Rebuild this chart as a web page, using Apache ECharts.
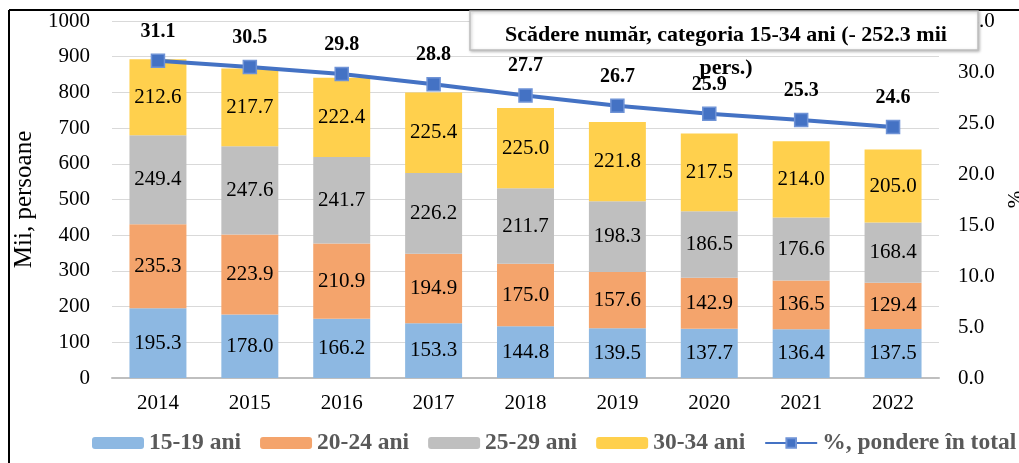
<!DOCTYPE html>
<html>
<head>
<meta charset="utf-8">
<script src="https://cdn.jsdelivr.net/npm/echarts@6/dist/echarts.min.js"></script>
<style>
html, body { margin: 0; padding: 0; background: #fff; }
#main { width: 1019px; height: 463px; }
</style>
</head>
<body>
<div id="main"></div>
<script>
var years = ['2014', '2015', '2016', '2017', '2018', '2019', '2020', '2021', '2022'];
var age15_19 = [195.3, 178.0, 166.2, 153.3, 144.8, 139.5, 137.7, 136.4, 137.5];
var age20_24 = [235.3, 223.9, 210.9, 194.9, 175.0, 157.6, 142.9, 136.5, 129.4];
var age25_29 = [249.4, 247.6, 241.7, 226.2, 211.7, 198.3, 186.5, 176.6, 168.4];
var age30_34 = [212.6, 217.7, 222.4, 225.4, 225.0, 221.8, 217.5, 214.0, 205.0];
var share = [31.1, 30.5, 29.8, 28.8, 27.7, 26.7, 25.9, 25.3, 24.6];
var boxText = 'Scădere număr, categoria 15-34 ani (- 252.3 mii\npers.)';

var font = 'Liberation Serif';
var chart = echarts.init(document.getElementById('main'));

function barSeries(name, data, color) {
	return {
		name: name,
		type: 'bar',
		stack: 'total',
		barWidth: '62%',
		data: data,
		itemStyle: { color: color },
		label: {
			show: true,
			position: 'inside',
			formatter: function (p) { return p.value.toFixed(1); },
			fontFamily: font,
			fontSize: 21,
			color: '#000'
		}
	};
}

var option = {
	backgroundColor: '#fff',
	animation: false,
	textStyle: { fontFamily: font },
	grid: { left: 112, right: 80, top: 21, bottom: 85, outerBoundsMode: 'none', containLabel: false },
	legend: {
		bottom: 8,
		left: 92,
		padding: 0,
		itemWidth: 52,
		itemHeight: 12,
		itemGap: 19,
		textStyle: { fontFamily: font, fontSize: 23.5, fontWeight: 'bold', color: '#595959' },
		data: ['15-19 ani', '20-24 ani', '25-29 ani', '30-34 ani', '%, pondere în total']
	},
	xAxis: {
		type: 'category',
		data: years,
		axisLine: { lineStyle: { color: '#bfbfbf', width: 2 } },
		axisTick: { show: false },
		axisLabel: { fontFamily: font, fontSize: 21, color: '#000', margin: 15 }
	},
	yAxis: [{
		type: 'value',
		min: 0, max: 1000, interval: 100,
		name: 'Mii, persoane',
		nameLocation: 'middle',
		nameGap: 63,
		nameRotate: 90,
		nameTextStyle: { fontFamily: font, fontSize: 25, color: '#000' },
		axisLine: { show: false },
		axisTick: { show: false },
		splitLine: { lineStyle: { color: '#d9d9d9' } },
		axisLabel: {
			fontFamily: font, fontSize: 21, color: '#000', margin: 22,
			formatter: function (v) { return String(v); }
		}
	}, {
		type: 'value',
		min: 0, max: 35, interval: 5,
		name: '%',
		nameLocation: 'middle',
		nameGap: 62,
		nameRotate: 90,
		nameTextStyle: { fontFamily: font, fontSize: 21, color: '#000' },
		axisLine: { show: false },
		axisTick: { show: false },
		splitLine: { show: false },
		axisLabel: {
			fontFamily: font, fontSize: 21, color: '#000', margin: 19,
			formatter: function (v) { return v.toFixed(1); }
		}
	}],
	series: [
		barSeries('15-19 ani', age15_19, '#8db8e2'),
		barSeries('20-24 ani', age20_24, '#f4a46c'),
		barSeries('25-29 ani', age25_29, '#bfbfbf'),
		barSeries('30-34 ani', age30_34, '#ffd04d'),
		{
			name: '%, pondere în total',
			type: 'line',
			yAxisIndex: 1,
			data: share,
			symbol: 'rect',
			symbolSize: 13,
			lineStyle: { color: '#4472c4', width: 4 },
			itemStyle: { color: '#4472c4', borderColor: '#6f93d6', borderWidth: 1.5 },
			label: {
				show: true,
				position: 'top',
				distance: 12,
				formatter: function (p) { return p.value.toFixed(1); },
				fontFamily: font,
				fontSize: 20,
				fontWeight: 'bold',
				color: '#000'
			},
			z: 5
		}
	],
	graphic: [
		{ type: 'line', shape: { x1: 9, y1: 10, x2: 1019, y2: 10 }, style: { stroke: '#000', lineWidth: 2 }, z: 1 },
		{ type: 'line', shape: { x1: 9, y1: 10, x2: 9, y2: 463 }, style: { stroke: '#000', lineWidth: 2 }, z: 1 },
		{
			type: 'rect',
			shape: { x: 470, y: 11, width: 508, height: 39 },
			style: { fill: '#fff', stroke: '#bfbfbf', lineWidth: 1.5, shadowBlur: 3, shadowColor: 'rgba(0,0,0,0.25)', shadowOffsetX: 1, shadowOffsetY: 1 },
			z: 100
		},
		{
			type: 'text',
			x: 726, y: 19,
			style: {
				text: boxText,
				align: 'center',
				verticalAlign: 'top',
				fontFamily: font,
				fontSize: 22,
				fontWeight: 'bold',
				lineHeight: 33,
				fill: '#000'
			},
			z: 101
		}
	]
};

chart.setOption(option);
</script>
</body>
</html>
